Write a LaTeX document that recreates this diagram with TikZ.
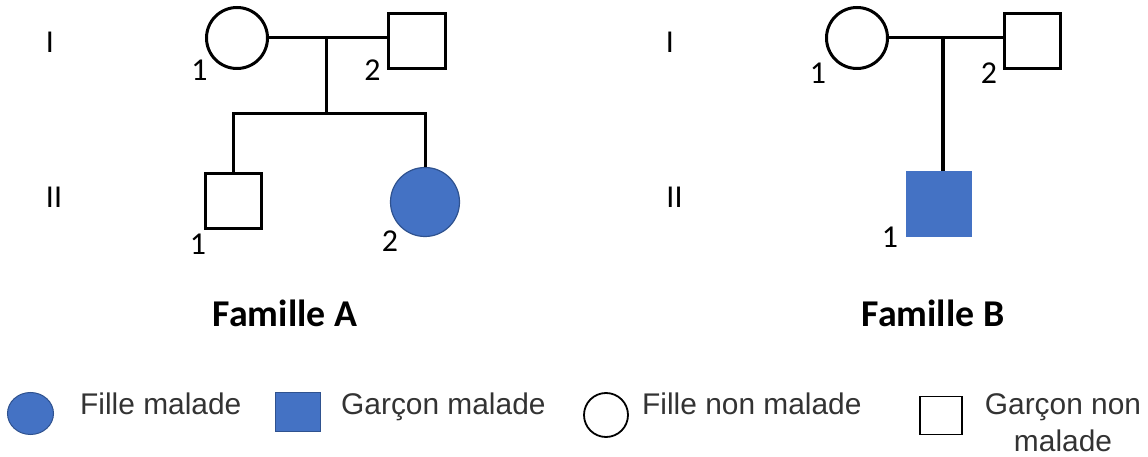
\documentclass[tikz,border=0pt]{standalone}
\usepackage{fontspec}
\setmainfont{Carlito}
\newfontfamily\legendfont{Liberation Sans}
\usetikzlibrary{shapes.geometric}
\definecolor{malade}{HTML}{4472C4}
\definecolor{bord}{HTML}{2F528F}

\begin{document}
\begin{tikzpicture}[x=1bp,y=-1bp,
	trait/.style={line width=3bp},
	fille/.style={circle,draw,line width=3bp,inner sep=0pt,minimum size=61bp},
	garcon/.style={rectangle,draw,line width=3bp,inner sep=0pt,minimum width=57bp,minimum height=55bp},
	num/.style={font=\fontsize{32}{32}\selectfont,inner sep=0pt},
	titre/.style={font=\fontsize{38}{38}\selectfont\bfseries,inner sep=0pt,anchor=base},
	leg/.style={font=\legendfont\fontsize{30}{38}\selectfont,inner sep=0pt,anchor=base west,text=black!80}]
	\useasboundingbox (0,0) rectangle (1148,457);
	% famille A
	\node[fille] (A1) at (237,38) {};
	\node[garcon] (A2) at (417,41) {};
	\node[garcon,minimum width=56bp] (A3) at (233.5,201) {};
	\node[circle,fill=malade,draw=bord,line width=1.2bp,inner sep=0pt,minimum size=69bp] (A4) at (425,202) {};
	\coordinate (Am) at (326,38);
	\coordinate (As) at (326,114);
	\draw[trait] (A1.east) -- (A1.east -| A2.west);
	\draw[trait] (Am) -- (As);
	\draw[trait] (A3.north) |- (As) -| (A4.north);
	\node[num] (nA1) at (199.5,70.5) {1};
	\node[num] (nA2) at (372.5,70.5) {2};
	\node[num] (nA3) at (198,244) {1};
	\node[num] (nA4) at (390,241) {2};
	\node[num] (gA1) at (50,42.5) {I};
	\node[num] (gA2) at (54,197.5) {II};
	\node[titre] (tA) at (285,327) {Famille A};
	% famille B
	\node[fille] (B1) at (857,38) {};
	\node[garcon,minimum width=56bp] (B2) at (1032.5,41) {};
	\node[rectangle,fill=malade,inner sep=0pt,minimum size=66bp] (B3) at (939,204) {};
	\coordinate (Bm) at (943,38);
	\draw[trait] (B1.east) -- (B1.east -| B2.west);
	\draw[line width=4.5bp] (Bm) -- (Bm |- B3.north);
	\node[num] (nB1) at (818,73) {1};
	\node[num] (nB2) at (989,73) {2};
	\node[num] (nB3) at (890,237) {1};
	\node[num] (gB1) at (670,42.5) {I};
	\node[num] (gB2) at (674.5,197.5) {II};
	\node[titre] (tB) at (933,327) {Famille B};
	% legende
	\node[ellipse,fill=malade,draw=bord,line width=1bp,inner sep=0pt,minimum width=46bp,minimum height=42bp] (lFm) at (30.5,413.5) {};
	\node[leg] (tFm) at (80,415) {Fille malade};
	\node[rectangle,fill=malade,draw=bord,line width=1bp,inner sep=0pt,minimum width=45bp,minimum height=39bp] (lGm) at (298,412) {};
	\node[leg] (tGm) at (341,415) {Garçon malade};
	\node[ellipse,draw,line width=1.8bp,inner sep=0pt,minimum width=44bp,minimum height=44bp] (lFn) at (606,415) {};
	\node[leg] (tFn) at (642,415) {Fille non malade};
	\node[rectangle,draw,line width=1.8bp,inner sep=0pt,minimum width=42bp,minimum height=38bp] (lGn) at (941,415.5) {};
	\node[leg,anchor=base,align=center] (tGn) at (1063,452) {Garçon non\\malade};
\end{tikzpicture}
\end{document}
